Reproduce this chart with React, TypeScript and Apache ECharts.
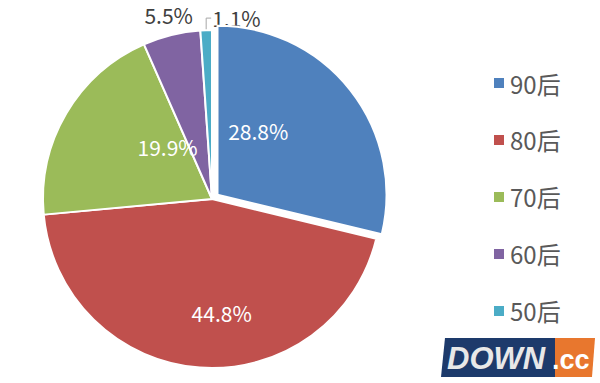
import React, { useEffect, useRef } from "react";
import * as echarts from "echarts";

const categories = ["90后", "80后", "70后", "60后", "50后"];
const values = [28.8, 44.8, 19.9, 5.5, 1.1];
const colors = ["#4F81BD", "#C0504D", "#9BBB59", "#8064A2", "#4BACC6"];
// label nudges relative to library default placement
const labelShift = [
  [-28, -10],
  [16, 27],
  [31, -8],
  [60, -5],
  [0, 0],
];

export default function App() {
  const ref = useRef<HTMLDivElement>(null);
  useEffect(() => {
    document.body.style.margin = "0";
    const chart = echarts.init(ref.current!, undefined, { renderer: "svg" });
    const font = "'Noto Sans CJK SC', 'Microsoft YaHei', sans-serif";
    chart.setOption({
      animation: false,
      backgroundColor: "#ffffff",
      legend: {
        orient: "vertical",
        left: 487,
        top: 66,
        itemWidth: 12,
        itemHeight: 12,
        itemGap: 33,
        icon: "rect",
        data: categories,
        textStyle: { fontSize: 24, color: "#595959", fontFamily: font, lineHeight: 22 },
      },
      series: [
        {
          type: "pie",
          center: [212, 199],
          radius: 169,
          startAngle: 90,
          clockwise: true,
          avoidLabelOverlap: false,
          selectedMode: "single",
          selectedOffset: 7,
          itemStyle: { borderColor: "#ffffff", borderWidth: 2 },
          label: {
            formatter: (p: any) => p.value.toFixed(1) + "%",
            fontSize: 21,
            fontFamily: font,
          },
          labelLine: { lineStyle: { color: "#a6a6a6", width: 1 } },
          labelLayout: (p: any) => {
            const i = p.dataIndex;
            if (i === 4 && p.labelLinePoints) {
              const a = p.labelLinePoints[0];
              const top = [a[0], a[1] - 12];
              const end = [a[0] + 5, a[1] - 12];
              return {
                x: end[0] + 1,
                y: end[1],
                align: "left",
                verticalAlign: "middle",
                labelLinePoints: [a, top, end],
              };
            }
            return { dx: labelShift[i][0], dy: labelShift[i][1] };
          },
          data: categories.map((name, i) => ({
            name,
            value: values[i],
            selected: i === 0,
            itemStyle: { color: colors[i] },
            label:
              i < 3
                ? { position: "inside", color: "#ffffff" }
                : { position: "outside", color: "#404040" },
            labelLine: i === 4 ? { show: true, length: 8, length2: 5 } : { show: false },
          })),
        },
      ],
      graphic: [
        {
          type: "polygon",
          shape: { points: [[445, 338], [555, 338], [555, 377], [441, 377]] },
          style: { fill: "#1d3a6b" },
        },
        {
          type: "polygon",
          shape: { points: [[555, 338], [595, 338], [592, 377], [555, 377]] },
          style: { fill: "#e8772e" },
        },
        {
          type: "text",
          x: 447,
          y: 358,
          style: {
            text: "DOWN",
            fill: "#e8e8e8",
            font: "italic bold 31px 'Liberation Sans', sans-serif",
            verticalAlign: "middle",
          },
        },
        {
          type: "text",
          x: 552,
          y: 360,
          style: {
            text: ".cc",
            fill: "#ffffff",
            font: "bold 27px 'Liberation Sans', sans-serif",
            verticalAlign: "middle",
          },
        },
      ],
    });
    return () => chart.dispose();
  }, []);
  return <div ref={ref} style={{ width: 600, height: 383 }} />;
}
